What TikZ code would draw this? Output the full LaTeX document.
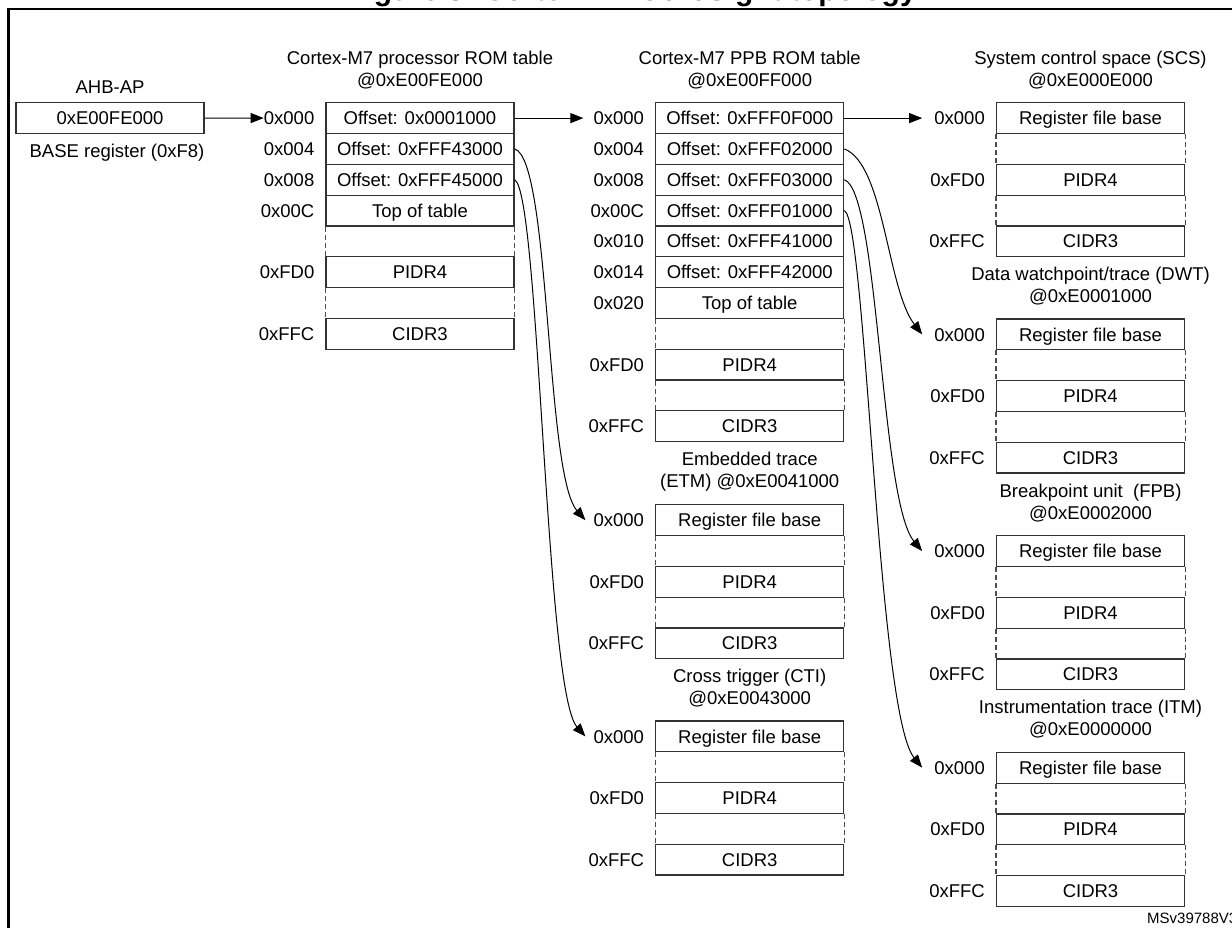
\documentclass[tikz,border=0pt]{standalone}
\usepackage{fontspec}
\setmainfont{Liberation Sans}
\usetikzlibrary{arrows.meta,positioning}

\begin{document}
\begin{tikzpicture}[x=1pt,y=-1pt,>={Triangle[length=13pt,width=10pt]},
        font=\fontsize{18.5}{22}\selectfont,
        cell/.style={draw=black!80,line width=1.2pt,minimum width=188pt,minimum height=30.8pt,inner sep=0pt,text height=13.3pt,text depth=0pt},
        addr/.style={anchor=east,inner sep=0pt,text height=13.3pt,text depth=0pt},
        head/.style={align=center,inner sep=0pt},
        gap/.style={draw=black!70,line width=1.2pt,dash pattern=on 5pt off 3pt},
        link/.style={->,line width=1pt}]
        \useasboundingbox (0,0) rectangle (1232,927);
        \draw[line width=2.7pt] (1240,9) -| (8.7,935);
        \node[anchor=base,inner sep=0pt,font=\bfseries\fontsize{30}{36}\selectfont] (title) at (632,0.8) {Figure 3. Cortex-M7 CoreSight topology};
        \node[anchor=base west,inner sep=0pt,font=\fontsize{15}{18}\selectfont] (msv) at (1147,923.4) {MSv39788V3};
        \node[cell] (ahb) at (110,117.9) {0xE00FE000};
        \node[head,above=8pt of ahb] (ahbname) {AHB-AP};
        \node[head,below left=9.8pt and 0pt of ahb.south east] (ahbreg) {BASE register (0xF8)};
        \foreach \i/\adr/\txt in {0/0x000/Offset: 0x0001000,1/0x004/Offset: 0xFFF43000,2/0x008/Offset: 0xFFF45000,3/0x00C/Top of table,5/0xFD0/PIDR4,7/0xFFC/CIDR3} {
            \node[cell] (proc\i) at (420,102.7+30.8*\i+15.4) {\txt};
            \node[addr] (proca\i) at (314.5,102.7+30.8*\i+15.4) {\adr};
        }
        \foreach \i/\adr/\txt in {0/0x000/Offset: 0xFFF0F000,1/0x004/Offset: 0xFFF02000,2/0x008/Offset: 0xFFF03000,3/0x00C/Offset: 0xFFF01000,4/0x010/Offset: 0xFFF41000,5/0x014/Offset: 0xFFF42000,6/0x020/Top of table,8/0xFD0/PIDR4,10/0xFFC/CIDR3} {
            \node[cell] (ppb\i) at (749.7,102.7+30.8*\i+15.4) {\txt};
            \node[addr] (ppba\i) at (644.2,102.7+30.8*\i+15.4) {\adr};
        }
        \foreach \p/\n in {3/5,5/7}
            \draw[gap] (proc\p.south west) -- (proc\n.north west) (proc\p.south east) -- (proc\n.north east);
        \foreach \p/\n in {6/8,8/10}
            \draw[gap] (ppb\p.south west) -- (ppb\n.north west) (ppb\p.south east) -- (ppb\n.north east);
        \foreach \tab/\cx/\ax/\ty in {scs/1090.5/985/102.7,dwt/1090.5/985/319,fpb/1090.5/985/535.7,itm/1090.5/985/752.3,etm/749.7/644.2/504.7,cti/749.7/644.2/721} {
            \foreach \i/\adr/\txt in {0/0x000/Register file base,2/0xFD0/PIDR4,4/0xFFC/CIDR3} {
                \node[cell] (\tab\i) at (\cx,\ty+30.8*\i+15.4) {\txt};
                \node[addr] (\tab a\i) at (\ax,\ty+30.8*\i+15.4) {\adr};
            }
            \foreach \p/\n in {0/2,2/4}
                \draw[gap] (\tab\p.south west) -- (\tab\n.north west) (\tab\p.south east) -- (\tab\n.north east);
        }
        \foreach \tab/\txt in {proc/{Cortex-M7 processor ROM table\\@0xE00FE000},ppb/{Cortex-M7 PPB ROM table\\@0xE00FF000},scs/{System control space (SCS)\\@0xE000E000},dwt/{Data watchpoint/trace (DWT)\\@0xE0001000},fpb/{Breakpoint unit~ (FPB)\\@0xE0002000},itm/{Instrumentation trace (ITM)\\@0xE0000000},etm/{Embedded trace\\(ETM) @0xE0041000},cti/{Cross trigger (CTI)\\@0xE0043000}}
            \node[head,above=13pt of \tab0] (\tab name) {\txt};
        \draw[link] (ahb) -- (proca0);
        \draw[link,shorten >=10pt] (proc0) -- (ppba0);
        \draw[link,shorten >=12pt] (ppb0) -- (scsa0);
        \draw[link] (proc1.east) .. controls +(36,10) and +(-40,-45) .. ([xshift=-8pt]etma0.west);
        \draw[link] (proc2.east) .. controls +(25,12) and +(-40,-45) .. ([xshift=-8pt]ctia0.west);
        \draw[link] (ppb1.east) .. controls +(40,15) and +(-35,-45) .. ([xshift=-12pt]dwta0.west);
        \draw[link] (ppb2.east) .. controls +(35,12) and +(-42,-50) .. ([xshift=-12pt]fpba0.west);
        \draw[link] (ppb3.east) .. controls +(22,10) and +(-45,-55) .. ([xshift=-12pt]itma0.west);
    \end{tikzpicture}
\end{document}
